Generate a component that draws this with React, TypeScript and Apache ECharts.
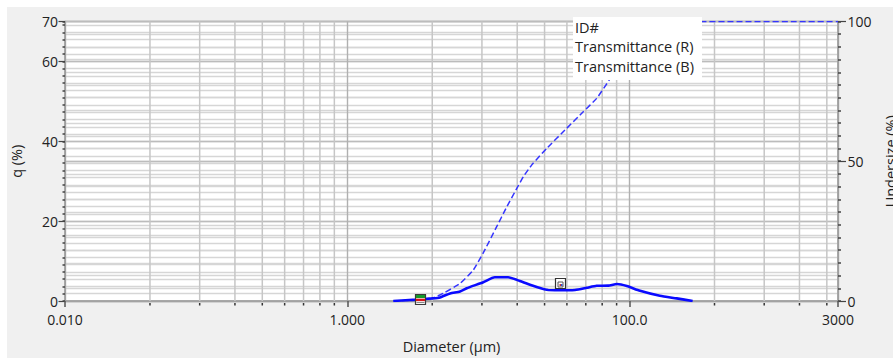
import React, { useEffect, useRef } from "react";
import * as echarts from "echarts";

// q (%) frequency distribution
const diameters = [2.12, 3.1, 3.97, 4.54, 5.35, 6.3, 7.02, 9.2, 11.1, 13.8, 16.7, 22.0, 26.6, 35.9, 41.1, 49.7, 58.5, 70.7, 81.5, 95.7, 118.7, 164, 216, 280];
const qValues = [0, 0.35, 0.65, 0.9, 1.9, 2.4, 3.2, 4.7, 5.95, 5.95, 5.0, 3.5, 2.75, 2.7, 2.75, 3.3, 3.8, 3.85, 4.25, 3.75, 2.55, 1.3, 0.65, 0];

// Undersize (%) cumulative
const undersizeDiameters = [2.12, 3.1, 3.97, 4.79, 6.3, 7.82, 9.17, 11.45, 13.5, 15.9, 17.7, 20.3, 25.9, 35.9, 47.0, 58.5, 71.9, 81.5, 95.7, 118.7, 164, 216, 280, 3000];
const undersizeValues = [0, 0.3, 0.9, 2.75, 6.3, 11.1, 17.1, 26.6, 33.7, 40.3, 44.5, 48.7, 54.6, 61.8, 67.7, 72.5, 79.1, 84, 89, 94, 97.5, 99.3, 100, 100];

// markers
const markerDiameters = [3.28, 32.2];
const markerValues = [0.5, 4.63];

// axis ticks
const xTickValues = [0.01, 1, 100, 3000];
const xTickLabels = ["0.010", "1.000", "100.0", "3000"];
const xMinorTicks = [0.04, 0.09, 0.16, 0.25, 0.36, 0.49, 0.64, 0.81, 4, 9, 16, 25, 36, 49, 64, 81, 400, 900, 1600, 2500];
const legendLines = ["ID#", "Transmittance (R)", "Transmittance (B)"];

const FONT = "'Open Sans', sans-serif";
const TXT = "#222222";

export default function App() {
  const ref = useRef<HTMLDivElement>(null);
  useEffect(() => {
    if (!ref.current) return;
    const chart = echarts.init(ref.current, undefined, { renderer: "svg" });
    const gridLeft = 58, gridTop = 14.5, gridW = 773, gridH = 279.5;

    const option: any = {
      animation: false,
      backgroundColor: "#f0f0f0",
      textStyle: { fontFamily: FONT },
      grid: {
        left: gridLeft, top: gridTop, width: gridW, height: gridH,
        containLabel: false, outerBoundsMode: "none",
        show: true, backgroundColor: "#ffffff", borderColor: "#bcbcbc", borderWidth: 1,
      },
      xAxis: {
        type: "log",
        logBase: 100,
        min: 0.01,
        max: 3000,
        name: "Diameter (µm)",
        nameLocation: "middle",
        nameGap: 38,
        nameTextStyle: { fontSize: 14.5, color: TXT, fontFamily: FONT },
        axisLine: { show: true, lineStyle: { color: "#9a9a9a", width: 1.5 } },
        axisTick: { show: true, length: 6, lineStyle: { color: "#555", width: 1.5 } },
        axisLabel: {
          fontSize: 14, color: TXT, fontFamily: FONT, margin: 11,
          showMinLabel: true, showMaxLabel: true,
          formatter: (v: number) => {
            const i = xTickValues.findIndex((t) => Math.abs(Math.log10(t) - Math.log10(v)) < 1e-6);
            return i >= 0 ? xTickLabels[i] : "";
          },
        },
        splitLine: { show: true, lineStyle: { color: "#b0b0b0", width: 1.4 } },
      },
      yAxis: [
        {
          // minor left
          type: "value", position: "left", min: 0, max: 70, interval: 20 / 11,
          axisLine: { show: false }, axisLabel: { show: false },
          axisTick: { show: true, length: 2.5, lineStyle: { color: "#444", width: 1.5 } },
          splitLine: { show: true, lineStyle: { color: "#d6d6d6", width: 1.3 } },
        },
        {
          // minor right
          type: "value", position: "right", min: 0, max: 100, interval: 50 / 11,
          axisLine: { show: false }, axisLabel: { show: false },
          axisTick: { show: true, length: 3, lineStyle: { color: "#444", width: 1.5 } },
          splitLine: { show: true, lineStyle: { color: "#d6d6d6", width: 1.3 } },
        },
        {
          type: "value", position: "left", min: 0, max: 70, interval: 20,
          name: "q (%)", nameLocation: "middle", nameGap: 41, nameRotate: 90,
          nameTextStyle: { fontSize: 14.5, color: TXT, fontFamily: FONT },
          axisLine: { show: true, lineStyle: { color: "#9a9a9a", width: 1.5 } },
          axisTick: { show: true, length: 6.5, lineStyle: { color: "#444", width: 1.2 } },
          axisLabel: { fontSize: 14, color: TXT, fontFamily: FONT, margin: 7 },
          splitLine: { show: true, lineStyle: { color: "#bcbcbc", width: 1.4 } },
        },
        {
          type: "value", position: "right", min: 0, max: 100, interval: 50,
          name: "Undersize (%)", nameLocation: "middle", nameGap: 45, nameRotate: 90,
          nameTextStyle: { fontSize: 14.5, color: TXT, fontFamily: FONT },
          axisLine: { show: true, lineStyle: { color: "#9a9a9a", width: 1.5 } },
          axisTick: { show: true, length: 8, lineStyle: { color: "#444", width: 1.2 } },
          axisLabel: { fontSize: 14, color: TXT, fontFamily: FONT, margin: 9.5 },
          splitLine: { show: true, lineStyle: { color: "#bcbcbc", width: 1.4 } },
        },
      ],
      series: [
        {
          type: "custom",
          name: "minorX",
          xAxisIndex: 0, yAxisIndex: 2,
          silent: true, clip: false, z: 1,
          data: xMinorTicks.map((v) => [v, 0]),
          renderItem: (_p: any, api: any) => {
            const v = api.value(0);
            const b = api.coord([v, 0]);
            const t = api.coord([v, 70]);
            return {
              type: "group",
              children: [
                { type: "line", shape: { x1: b[0], y1: t[1], x2: b[0], y2: b[1] }, style: { stroke: "#c6c6c6", lineWidth: 1.5 } },
                { type: "line", shape: { x1: b[0], y1: b[1] + 2, x2: b[0], y2: b[1] + 4.5 }, style: { stroke: "#333", lineWidth: 1.5 } },
              ],
            };
          },
        },
        {
          type: "line",
          name: "Undersize",
          xAxisIndex: 0, yAxisIndex: 3,
          data: undersizeDiameters.map((d, i) => [d, undersizeValues[i]]),
          showSymbol: false, symbol: "none", smooth: 0.15, z: 3,
          lineStyle: { color: "#3535ff", width: 1.5, type: [6, 3] },
        },
        {
          type: "line",
          name: "q",
          xAxisIndex: 0, yAxisIndex: 2,
          data: diameters.map((d, i) => [d, qValues[i]]),
          showSymbol: false, symbol: "none", smooth: 0.2, z: 4,
          lineStyle: { color: "#0a0aff", width: 2.6 },
        },
        {
          type: "custom",
          name: "markers",
          xAxisIndex: 0, yAxisIndex: 2,
          silent: true, clip: false, z: 6,
          data: markerDiameters.map((d, i) => [d, markerValues[i]]),
          renderItem: (p: any, api: any) => {
            const c = api.coord([api.value(0), api.value(1)]);
            const x = Math.round(c[0]) + 0.5, y = Math.round(c[1]) + 0.5;
            if (p.dataIndex === 0) {
              return {
                type: "group",
                children: [
                  { type: "rect", shape: { x: x - 5, y: y - 5, width: 10, height: 10 }, style: { fill: "#f4f4f4", stroke: "#3a3a3a", lineWidth: 1.2 } },
                  { type: "rect", shape: { x: x - 4.5, y: y - 4.5, width: 9, height: 3 }, style: { fill: "#139a2a" } },
                  { type: "rect", shape: { x: x - 4.5, y: y - 0.8, width: 9, height: 2.4 }, style: { fill: "#d8161b" } },
                  { type: "line", shape: { x1: x - 4, y1: y + 3, x2: x + 4, y2: y + 3 }, style: { stroke: "#8a8a8a", lineWidth: 1 } },
                ],
              };
            }
            return {
              type: "group",
              children: [
                { type: "rect", shape: { x: x - 5, y: y - 5, width: 10, height: 10 }, style: { fill: "#ffffff", stroke: "#333", lineWidth: 1.2 } },
                { type: "rect", shape: { x: x - 2.5, y: y - 1.5, width: 5, height: 5 }, style: { fill: "#ffffff", stroke: "#555", lineWidth: 1 } },
                { type: "rect", shape: { x: x - 1, y: y + 0.5, width: 1.5, height: 2 }, style: { fill: "#d03030" } },
                { type: "rect", shape: { x: x + 0.5, y: y + 0.5, width: 1.5, height: 2 }, style: { fill: "#3050d0" } },
              ],
            };
          },
        },
      ],
      graphic: [
        {
          type: "rect", z: 100, silent: true,
          shape: { x: 566, y: 10, width: 129, height: 63 },
          style: { fill: "#ffffff" },
        },
        ...legendLines.map((t, i) => ({
          type: "text", z: 101, silent: true,
          x: 568, y: [20, 39.5, 59][i],
          style: { text: t, fontSize: 14.5, fontFamily: FONT, fill: TXT, verticalAlign: "middle", align: "left" },
        })),
      ],
    };
    chart.setOption(option);
    return () => chart.dispose();
  }, []);
  return (
    <div
      ref={ref}
      style={{ position: "fixed", left: 7, top: 7, width: 886, height: 351 }}
    />
  );
}
